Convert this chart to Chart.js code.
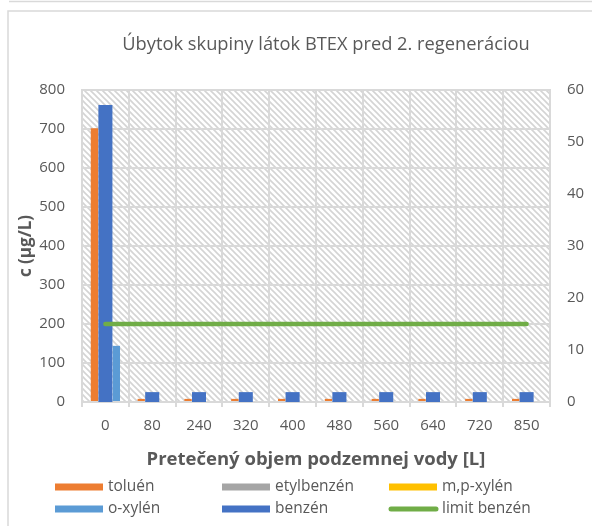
<!DOCTYPE html>
<html>
<head>
<meta charset="utf-8">
<script src="https://cdn.jsdelivr.net/npm/chart.js@4.4.1/dist/chart.umd.min.js"></script>
<style>
  body { margin: 0; background: #fff; }
  canvas { display: block; }
</style>
</head>
<body>
<canvas id="chart" width="592" height="526"></canvas>
<script>
// data
const categories = ["0", "80", "240", "320", "400", "480", "560", "640", "720", "850"];
const toluen = [702, 8, 8, 8, 8, 8, 8, 8, 8, 8];
const etylbenzen = [0, 0, 0, 0, 0, 0, 0, 0, 0, 0];
const mpXylen = [0, 0, 0, 0, 0, 0, 0, 0, 0, 0];
const oXylen = [144, 0, 0, 0, 0, 0, 0, 0, 0, 0];
const benzen = [57.1, 1.9, 1.9, 1.9, 1.9, 1.9, 1.9, 1.9, 1.9, 1.9]; // right axis
const limitBenzen = [15, 15, 15, 15, 15, 15, 15, 15, 15, 15];     // right axis

const titleText = "Úbytok skupiny látok BTEX pred 2. regeneráciou";
const grey = "#595959";
const gridCol = "#d9d9d9";

// diagonal hatch for the plot area
function hatch() {
  let c = document.createElement("canvas");
  c.width = 6; c.height = 6;
  let g = c.getContext("2d");
  g.fillStyle = "#fff";
  g.fillRect(0, 0, 6, 6);
  g.strokeStyle = "#d4d4d4";
  g.lineWidth = 1.6;
  g.beginPath();
  g.moveTo(-1, -1); g.lineTo(7, 7);
  g.moveTo(-4, 2); g.lineTo(4, 10);
  g.moveTo(2, -4); g.lineTo(10, 4);
  g.stroke();
  return g.createPattern(c, "repeat");
}

const decor = {
  id: "decor",
  beforeDraw(chart) {
    let ctx = chart.ctx, a = chart.chartArea;
    ctx.save();
    // outer frames
    ctx.strokeStyle = gridCol;
    ctx.lineWidth = 1.5;
    ctx.beginPath();
    ctx.moveTo(9, 1.5); ctx.lineTo(592, 1.5);
    ctx.moveTo(8, 526); ctx.lineTo(8, 11); ctx.lineTo(592, 11);
    ctx.stroke();
    ctx.fillStyle = hatch();
    ctx.fillRect(a.left, a.top, a.right - a.left, a.bottom - a.top);
    // title
    ctx.fillStyle = grey;
    ctx.font = "18.3px 'Open Sans'";
    ctx.textAlign = "center";
    ctx.textBaseline = "middle";
    ctx.fillText(titleText, 326, 45);
    ctx.restore();
  },
  afterDraw(chart) {
    // legend in 3 columns x 2 rows
    let ctx = chart.ctx;
    let cols = [55, 222, 389], rows = [487, 509];
    ctx.save();
    ctx.font = "15.5px 'Open Sans'";
    ctx.textBaseline = "middle";
    ctx.textAlign = "left";
    chart.data.datasets.forEach((ds, i) => {
      let x = cols[i % 3], y = rows[Math.floor(i / 3)];
      if (ds.type === "line") {
        ctx.strokeStyle = ds.borderColor;
        ctx.lineWidth = 5;
        ctx.lineCap = "round";
        ctx.beginPath();
        ctx.moveTo(x + 2, y); ctx.lineTo(x + 47, y);
        ctx.stroke();
      } else {
        ctx.fillStyle = ds.backgroundColor;
        ctx.fillRect(x, y - 3.5, 48, 7);
      }
      ctx.fillStyle = grey;
      ctx.fillText(ds.label, x + 53, y);
    });
    ctx.restore();
  }
};

const barOpts = { categoryPercentage: 0.625, barPercentage: 1, order: 1, yAxisID: "y" };

new Chart(document.getElementById("chart").getContext("2d"), {
  type: "bar",
  data: {
    labels: categories,
    datasets: [
      { label: "toluén", data: toluen, backgroundColor: "#ed7d31", ...barOpts },
      { label: "etylbenzén", data: etylbenzen, backgroundColor: "#a5a5a5", ...barOpts },
      { label: "m,p-xylén", data: mpXylen, backgroundColor: "#ffc000", ...barOpts },
      { label: "o-xylén", data: oXylen, backgroundColor: "#5b9bd5", ...barOpts },
      { label: "benzén", data: benzen, backgroundColor: "#4472c4", yAxisID: "y2",
        grouped: false, categoryPercentage: 0.3, barPercentage: 1, order: 1 },
      { type: "line", label: "limit benzén", data: limitBenzen, yAxisID: "y2",
        borderColor: "#70ad47", borderWidth: 4.5, borderCapStyle: "round",
        pointRadius: 0, order: 0 }
    ]
  },
  options: {
    responsive: false,
    animation: false,
    layout: { padding: { top: 90, bottom: 54, left: 0, right: 0 } },
    plugins: {
      legend: { display: false },
      tooltip: { enabled: false }
    },
    scales: {
      x: {
        afterFit: s => { s.height = 70; },
        grid: { offset: true, color: gridCol, lineWidth: 2, tickLength: 5 },
        border: { color: gridCol, width: 2 },
        ticks: { color: grey, font: { family: "Open Sans", size: 15 }, padding: 10, maxRotation: 0 },
        title: { display: true, text: "Pretečený objem podzemnej vody [L]", color: grey,
                 font: { family: "Open Sans", size: 18.5, weight: "bold" }, padding: { bottom: 1 } }
      },
      y: {
        position: "left",
        min: 0, max: 800,
        afterFit: s => { s.width = 82; },
        grid: { color: gridCol, lineWidth: 2, drawTicks: false },
        border: { color: gridCol, width: 2 },
        ticks: { stepSize: 100, color: grey, font: { family: "Open Sans", size: 15 }, padding: 17 },
        title: { display: true, text: "c (µg/L)", color: grey,
                 font: { family: "Open Sans", size: 17, weight: "bold" }, padding: { top: 16 } }
      },
      y2: {
        position: "right",
        min: 0, max: 60,
        afterFit: s => { s.width = 42; },
        grid: { display: false, drawTicks: false },
        border: { color: gridCol, width: 2 },
        ticks: { stepSize: 10, color: grey, font: { family: "Open Sans", size: 15 }, padding: 17 }
      }
    }
  },
  plugins: [decor]
});
</script>
</body>
</html>
